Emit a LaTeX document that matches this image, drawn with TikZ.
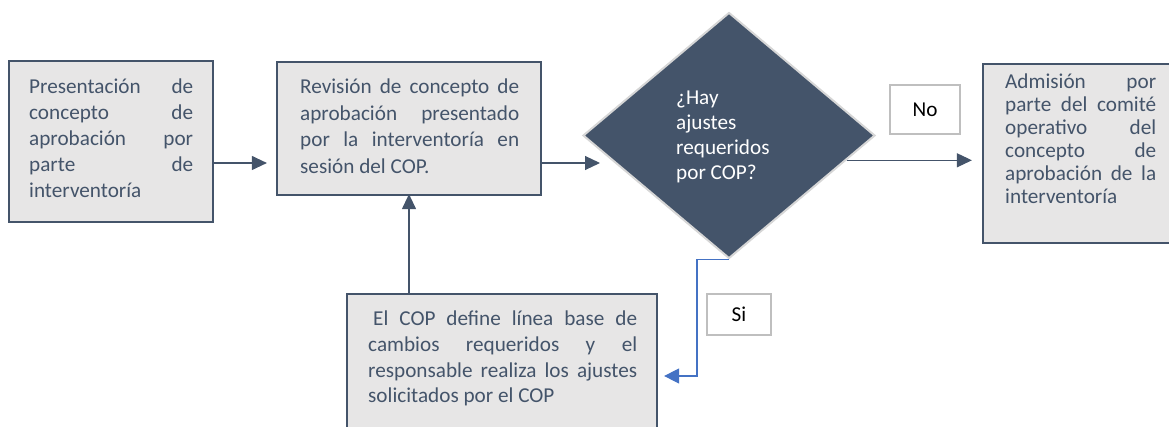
\documentclass[tikz,border=0pt]{standalone}
\usepackage{fontspec}
\setmainfont{Carlito}
\usetikzlibrary{arrows.meta,shapes.geometric,calc}
\definecolor{slate}{HTML}{44546A}
\definecolor{boxfill}{HTML}{E7E6E6}
\definecolor{diaborder}{HTML}{D6D6D6}
\definecolor{lblborder}{HTML}{BFBFBF}
\definecolor{blueline}{HTML}{4472C4}
\newcommand{\fs}[1]{\fontsize{21.2}{#1}\selectfont\hyphenpenalty=10000\relax}
\newcommand{\st}{\rule{0pt}{16pt}}
\tikzset{
  procbox/.style={draw=slate, line width=2.2pt, fill=boxfill, rectangle, inner sep=0pt},
  boxtext/.style={anchor=north west, inner sep=0pt, text=slate, align=justify},
  decision/.style={diamond, draw=diaborder, line width=2pt, fill=slate, inner sep=0pt},
  lblbox/.style={draw=lblborder, line width=1.3pt, fill=white, inner sep=0pt, text=black, font=\fs{24}},
  flow/.style={draw=slate, line width=1.1pt, -{Triangle[length=15pt,width=14pt]}},
  flowblue/.style={draw=blueline, line width=1.1pt, -{Triangle[length=15pt,width=15pt]}}
}
\begin{document}
\begin{tikzpicture}[x=1pt,y=-1pt]
\useasboundingbox (0,0) rectangle (1169,427);
\clip (0,0) rectangle (1169,427);
% boxes
\node[procbox, minimum width=204pt, minimum height=161pt] (b1) at (111,141.5) {};
\node[procbox, minimum width=264pt, minimum height=133pt] (b2) at (409,128.5) {};
\node[procbox, minimum width=202pt, minimum height=179pt] (b4) at (1084,153.5) {};
\node[procbox, minimum width=310pt, minimum height=146pt] (b5) at (502,367) {};
\node[decision, minimum width=292pt, minimum height=246pt] (dia) at (729,135.5) {};
\node[lblbox, minimum width=70pt, minimum height=49pt] (no) at (925,109.5) {No};
\node[lblbox, minimum width=64pt, minimum height=41pt] (si) at (739,314.5) {Si};
% texts
\node[boxtext, text width=164pt, font=\fs{26}] (t1) at (29,77)
 {\st Presentación de\linebreak concepto de\linebreak aprobación por\linebreak parte de\linebreak interventoría};
\node[boxtext, text width=219pt, font=\fs{26.5}] (t2) at (300,77.5)
 {\st Revisión de concepto de\linebreak aprobación presentado\linebreak por la interventoría en\linebreak sesión del COP.};
\node[boxtext, text width=151pt, font=\fs{23}] (t4) at (1005,72.5)
 {\st Admisión por\linebreak parte del comité\linebreak operativo del\linebreak concepto de\linebreak aprobación de la\linebreak interventoría};
\node[boxtext, text width=269pt, font=\fs{25.7}] (t5) at (368,309.5)
 {\st\hspace*{5pt}El COP define línea base de\linebreak cambios requeridos y el\linebreak responsable realiza los ajustes\linebreak solicitados por el COP};
\node[anchor=north west, inner sep=0pt, text=white, align=left, font=\fs{25}] (td) at (676,88)
 {\st ¿Hay\\ajustes\\requeridos\\por COP?};
% connectors
\coordinate (rowA) at (0,163);
\draw[flow, shorten >=9pt] (b1.east |- rowA) -- (b2.west |- rowA);
\draw[flow, shorten >=-18pt] (b2.east |- rowA) -- (dia.west |- rowA);
\coordinate (a3) at ($(dia.east)!0.2!(dia.south)$);
\draw[flow, shorten >=10pt] (a3) -- (a3 -| b4.west);
\draw[flow, shorten >=-2pt] (b2.south |- b5.north) -- (b2.south);
\draw[flowblue, shorten >=6pt] (dia.south) -- ++(-32,0) |- ([yshift=-9pt]b5.east);
\end{tikzpicture}
\end{document}
